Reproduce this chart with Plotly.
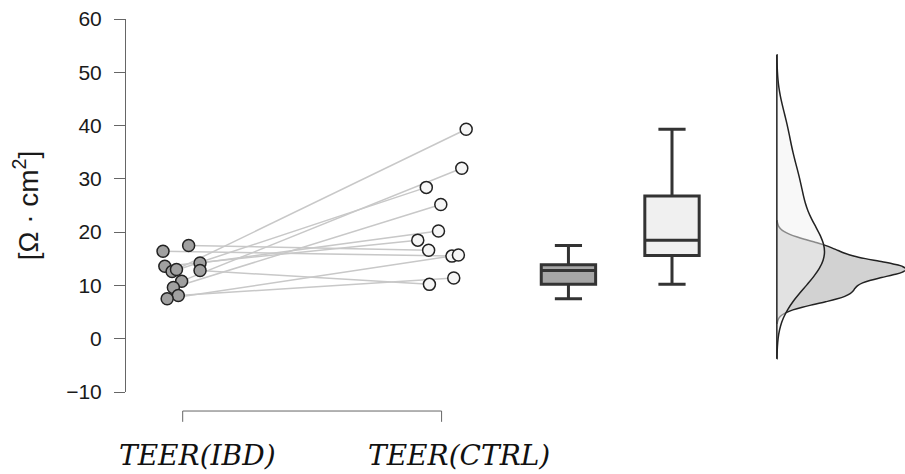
import numpy as np
import plotly.graph_objects as go

# ---------------- data ----------------
categories = ["TEER(IBD)", "TEER(CTRL)"]
# paired measurements (same order = same pair)
ibd_values = [16.4, 17.5, 13.6, 12.6, 13.0, 14.2, 12.8, 10.8, 9.6, 8.1, 7.5]
ctrl_values = [15.5, 16.6, 18.5, 28.4, 39.3, 20.2, 10.2, 32.0, 25.2, 11.4, 15.7]
# horizontal jitter of the points around their category
ibd_jitter = [-0.076, 0.023, -0.069, -0.041, -0.024, 0.067, 0.067, -0.004, -0.036, -0.017, -0.060]
ctrl_jitter = [0.040, -0.050, -0.092, -0.059, 0.095, -0.012, -0.047, 0.078, -0.003, 0.047, 0.065]
y_ticks = [-10, 0, 10, 20, 30, 40, 50, 60]

# ---------------- layout constants ----------------
CAT_POS = [1, 2]
BOX_POS = [2.49, 2.89]
BOX_W = 0.21
VIOLIN_POS = 3.295
VIOLIN_W = 1.0  # full width of the widest (IBD) density

DARK = "#222222"
AXIS = "#666666"


def nrd0(v):
    v = np.asarray(v, dtype=float)
    q75, q25 = np.percentile(v, [75, 25])
    lo = min(np.std(v, ddof=1), (q75 - q25) / 1.34)
    return 0.9 * lo * len(v) ** -0.2


def kde_max(v, bw):
    v = np.asarray(v, dtype=float)
    grid = np.linspace(v.min() - 3 * bw, v.max() + 3 * bw, 600)
    d = np.exp(-0.5 * ((grid[:, None] - v[None, :]) / bw) ** 2).sum(1)
    return d.max() / (len(v) * bw * np.sqrt(2 * np.pi))


fig = go.Figure()

# connecting lines
lx, ly = [], []
for a, b, ja, jb in zip(ibd_values, ctrl_values, ibd_jitter, ctrl_jitter):
    lx += [CAT_POS[0] + ja, CAT_POS[1] + jb, None]
    ly += [a, b, None]
fig.add_trace(go.Scatter(x=lx, y=ly, mode="lines",
                         line=dict(color="#c8c8c8", width=1.5),
                         hoverinfo="skip", showlegend=False))

# points
fig.add_trace(go.Scatter(x=[CAT_POS[0] + j for j in ibd_jitter], y=ibd_values,
                         mode="markers", name=categories[0], showlegend=False,
                         marker=dict(size=12, color="#a0a0a0",
                                     line=dict(color=DARK, width=1.5))))
fig.add_trace(go.Scatter(x=[CAT_POS[1] + j for j in ctrl_jitter], y=ctrl_values,
                         mode="markers", name=categories[1], showlegend=False,
                         marker=dict(size=12, color="#f6f6f6",
                                     line=dict(color=DARK, width=1.5))))

# box plots
for vals, pos, fill in [(ibd_values, BOX_POS[0], "#a6a6a6"),
                        (ctrl_values, BOX_POS[1], "#f0f0f0")]:
    fig.add_trace(go.Box(y=vals, x0=pos, width=BOX_W, boxpoints=False,
                         fillcolor=fill, line=dict(color="#333333", width=3),
                         whiskerwidth=0.5, quartilemethod="inclusive",
                         showlegend=False))

# half-violin densities (common density scale)
bws = [nrd0(ibd_values), nrd0(ctrl_values)]
peaks = [kde_max(ibd_values, bws[0]), kde_max(ctrl_values, bws[1])]
top = max(peaks)
for i, (vals, fill) in enumerate([(ibd_values, "#d2d2d2"),
                                  (ctrl_values, "rgba(241,241,241,0.5)")]):
    bw = bws[i]
    fig.add_trace(go.Violin(y=vals, x0=VIOLIN_POS, side="positive",
                            width=VIOLIN_W * peaks[i] / top,
                            bandwidth=bw, spanmode="manual",
                            span=[min(vals) - 3 * bw, max(vals) + 3 * bw],
                            scalegroup=f"d{i}", scalemode="width",
                            points=False, box_visible=False, meanline_visible=False,
                            fillcolor=fill, line=dict(color=DARK, width=1.5),
                            showlegend=False))

# density baseline
lo_all = min(min(v) - 3 * b for v, b in zip([ibd_values, ctrl_values], bws))
hi_all = max(max(v) + 3 * b for v, b in zip([ibd_values, ctrl_values], bws))
fig.add_shape(type="line", xref="x", yref="y", x0=VIOLIN_POS, x1=VIOLIN_POS,
              y0=lo_all, y1=hi_all, line=dict(color=DARK, width=1.5))

# x bracket (axis) between the two categories
yb, yt = -0.051, -0.080
fig.add_shape(type="line", xref="x", yref="paper", x0=CAT_POS[0], x1=CAT_POS[1],
              y0=yb, y1=yb, line=dict(color=AXIS, width=1))
for p in CAT_POS:
    fig.add_shape(type="line", xref="x", yref="paper", x0=p, x1=p,
                  y0=yb, y1=yt, line=dict(color=AXIS, width=1))

# category labels
for p, lab, sh in zip(CAT_POS, categories, [15, 17]):
    fig.add_annotation(x=p, xref="x", y=-0.169, yref="paper", text=lab,
                       showarrow=False, xshift=sh, yanchor="middle",
                       font=dict(family="DejaVu Serif", size=28, style="italic",
                                 color="#111111"))

fig.update_layout(
    width=905, height=474,
    margin=dict(l=126, r=0, t=19, b=82),
    paper_bgcolor="white", plot_bgcolor="white",
    showlegend=False,
    xaxis=dict(range=[0.781, 3.79], showline=False, showgrid=False,
               zeroline=False, showticklabels=False, ticks="", automargin=False),
    yaxis=dict(range=[-10, 60], tickvals=y_ticks, showline=True, automargin=False,
               linecolor=AXIS, linewidth=1, ticks="outside", ticklen=11,
               tickcolor=AXIS, tickwidth=1, showgrid=False, zeroline=False,
               ticklabelstandoff=8,
               tickfont=dict(family="Liberation Sans", size=21, color="#1a1a1a"),
               title=dict(text="[Ω · cm<sup>2</sup>]", standoff=19,
                          font=dict(family="Liberation Sans", size=28,
                                    color="#1a1a1a"))),
)

fig.write_html("out.html", config={"displayModeBar": False},
               post_script="document.body.style.margin='0px';")
